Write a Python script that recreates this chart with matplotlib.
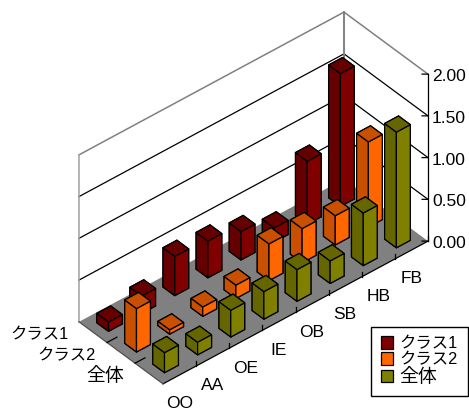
import matplotlib
matplotlib.use('Agg')
import matplotlib.pyplot as plt
from matplotlib.patches import Patch
from mpl_toolkits.mplot3d import proj3d
from mpl_toolkits.mplot3d.art3d import Poly3DCollection

plt.rcParams['font.family'] = ['Liberation Sans', 'Noto Sans CJK JP', 'DejaVu Sans']

categories = ['OO', 'AA', 'OE', 'IE', 'OB', 'SB', 'HB', 'FB']
series = ['クラス1', 'クラス2', '全体']
z_ticks = [0.0, 0.5, 1.0, 1.5, 2.0]

class1 = [0.11, 0.21, 0.47, 0.44, 0.34, 0.17, 0.755, 1.59]
class2 = [0.52, 0.05, 0.11, 0.16, 0.44, 0.41, 0.35, 1.02]
total = [0.24, 0.15, 0.32, 0.33, 0.38, 0.27, 0.63, 1.385]

# front face colour, darker colour for the side and the top
bright = ['#800000', '#FF6600', '#808000']
dark = ['#660000', '#C85000', '#666600']
# kana run narrow in the original font, kanji wide
series_sizes = [11.8, 11.8, 13.6]

fig = plt.figure(figsize=(4.69, 4.08), dpi=100)
ax = fig.add_axes([44 / 469, 0.5 / 408, 408 / 469, 1], projection='3d', computed_zorder=False)
ax.set_proj_type('ortho')
ax.view_init(elev=39.1, azim=-130.5)
ax.set_xlim(0, 8)
ax.set_ylim(0, 3)
ax.set_zlim(0, 2)
ax.set_box_aspect((348.6, 129.4, 215.2), zoom=1.022)
ax.set_axis_off()

nx, ny, top = len(categories), len(series), z_ticks[-1]


def label(x, y, z, text, **kw):
    # plain 2D text at a projected point
    px, py, _ = proj3d.proj_transform(x, y, z, ax.get_proj())
    ax.text2D(px, py, text, transform=ax.transData, va='center', zorder=100, **kw)


# floor and the two back walls
floor = [[(0, 0, 0), (nx, 0, 0), (nx, ny, 0), (0, ny, 0)]]
ax.add_collection3d(Poly3DCollection(floor, facecolor='#808080', edgecolor='none', zorder=1))

for z in z_ticks[1:-1]:
    ax.plot([0, nx, nx], [ny, ny, 0], [z, z, z], color='black', lw=0.9, zorder=2)
ax.plot([0, nx, nx], [ny, ny, 0], [top, top, top], color='#808080', lw=1.1, zorder=2)
ax.plot([0, 0], [ny, ny], [0, top], color='#a0a0a0', lw=1.1, zorder=2)
ax.plot([nx, nx], [ny, ny], [0, top], color='#808080', lw=1.4, zorder=2)
ax.plot([nx, nx], [0, 0], [0, top], color='black', lw=0.9, zorder=2)
ax.plot([0, nx], [0, 0], [0, 0], color='black', lw=0.9, zorder=2)
ax.plot([0, 0], [0, ny], [0, 0], color='#505050', lw=0.9, zorder=2)

# ticks
for i in range(1, nx + 1):
    ax.plot([i, i], [0, 0], [0, 0.06], color='black', lw=0.9, zorder=2)
for j in range(1, ny):
    ax.plot([0, 0.3], [j, j], [0, 0], color='black', lw=0.9, zorder=2)
for z in z_ticks:
    ax.plot([nx, nx - 0.18], [0, 0], [z, z + 0.039], color='black', lw=0.9, zorder=2)
    label(nx + 0.12, 0, z - 0.055, f'{z:.2f}', ha='left', fontsize=12.5)

# bars, far row first and far end of each row first
width = 0.42
values = [class1, class2, total]
order = 10
for row, vals in enumerate(values):
    y = ny - row - 0.5
    for i in range(nx - 1, -1, -1):
        # faces: -z, +z, -y, +y, -x, +x
        faces = [dark[row], dark[row], bright[row], bright[row], dark[row], dark[row]]
        ax.bar3d(i + 0.5 - width / 2, y - width / 2, 0, width, width, vals[i],
                 color=faces, edgecolor='black', linewidth=0.9, shade=False, zorder=order)
        order += 1

# axis labels
for i, name in enumerate(categories):
    label(i + 0.5, 0, -0.345, name, ha='center', fontsize=12.5)
for j, name in enumerate(series):
    label(-0.75, ny - j - 0.5, 0.125, name, ha='right', fontsize=series_sizes[j])

handles = [Patch(facecolor=c, edgecolor='black', linewidth=0.9) for c in bright]
leg = fig.legend(handles, series, loc='lower left', bbox_to_anchor=(371 / 469, 12 / 408),
                 borderaxespad=0, fancybox=False, framealpha=1, edgecolor='black',
                 fontsize=12.5, handlelength=0.7, handleheight=0.7, handletextpad=0.4,
                 labelspacing=0.05, borderpad=0.55)
for txt, size in zip(leg.get_texts(), series_sizes):
    txt.set_fontsize(size)

fig.savefig('out.png', dpi=100)
